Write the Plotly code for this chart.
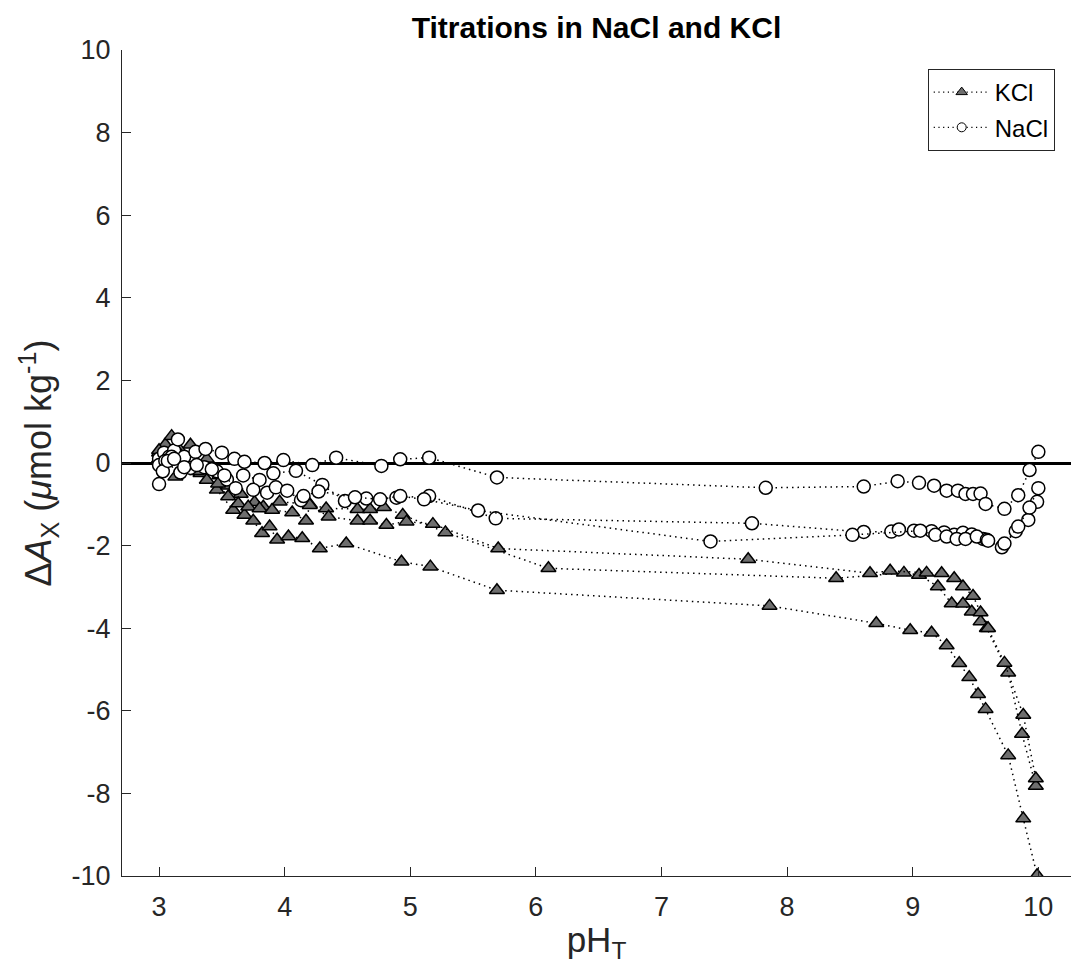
import plotly.graph_objects as go

# ---- data: KCl titrations (pH_T, dA_X) ----
kcl1_ph = [3.00, 3.06, 3.12, 3.20, 3.33, 3.46, 3.59, 3.68, 3.75, 3.82, 3.88, 3.94, 4.03, 4.14, 4.28, 4.49, 4.93, 5.16, 5.69, 7.86, 8.71, 8.98, 9.15, 9.27, 9.37, 9.45, 9.52, 9.58, 9.76, 9.88, 9.99]
kcl1_da = [0.10, 0.35, 0.20, -0.05, -0.25, -0.65, -1.14, -1.26, -1.40, -1.70, -1.54, -1.86, -1.78, -1.82, -2.07, -1.95, -2.39, -2.51, -3.08, -3.46, -3.88, -4.05, -4.11, -4.42, -4.85, -5.19, -5.60, -5.96, -7.08, -8.61, -9.98]

kcl2_ph = [3.00, 3.05, 3.10, 3.17, 3.25, 3.38, 3.48, 3.55, 3.65, 3.76, 3.83, 3.96, 4.20, 4.33, 4.58, 4.68, 4.79, 4.94, 5.28, 6.10, 8.39, 8.93, 9.05, 9.20, 9.31, 9.40, 9.47, 9.54, 9.59, 9.76, 9.87, 9.98]
kcl2_da = [0.25, 0.45, 0.65, 0.30, 0.44, 0.10, -0.30, -0.55, -0.75, -0.95, -1.06, -0.94, -1.00, -1.10, -1.12, -1.12, -1.07, -1.26, -1.68, -2.55, -2.79, -2.66, -2.71, -2.99, -3.40, -3.41, -3.60, -3.84, -4.00, -5.08, -6.56, -7.82]

kcl3_ph = [3.00, 3.08, 3.13, 3.22, 3.30, 3.38, 3.47, 3.55, 3.63, 3.71, 3.80, 3.90, 4.06, 4.17, 4.20, 4.35, 4.58, 4.68, 4.81, 4.97, 5.18, 5.70, 7.69, 8.66, 8.82, 9.11, 9.23, 9.33, 9.40, 9.48, 9.54, 9.60, 9.73, 9.88, 9.98]
kcl3_da = [0.31, 0.15, -0.33, -0.10, -0.20, -0.41, -0.50, -0.81, -0.98, -1.06, -1.10, -1.14, -1.20, -1.40, -1.02, -1.30, -1.40, -1.40, -1.50, -1.42, -1.48, -2.07, -2.33, -2.67, -2.61, -2.66, -2.67, -2.79, -2.99, -3.22, -3.62, -4.00, -4.84, -6.10, -7.64]

# ---- data: NaCl titrations ----
nacl1_ph = [3.00, 3.04, 3.08, 3.12, 3.15, 3.20, 3.29, 3.37, 3.50, 3.60, 3.68, 3.84, 3.99, 4.22, 4.41, 4.77, 4.92, 5.15, 5.69, 7.83, 8.61, 8.88, 9.05, 9.17, 9.27, 9.36, 9.42, 9.48, 9.54, 9.58, 9.73, 9.84, 9.93, 10.00]
nacl1_da = [0.10, 0.25, 0.15, 0.30, 0.57, 0.15, 0.27, 0.34, 0.25, 0.10, 0.03, 0.00, 0.07, -0.05, 0.13, -0.07, 0.09, 0.13, -0.35, -0.60, -0.57, -0.44, -0.48, -0.55, -0.67, -0.67, -0.75, -0.75, -0.74, -0.99, -1.11, -0.78, -0.17, 0.27]

nacl2_ph = [3.00, 3.05, 3.10, 3.17, 3.25, 3.36, 3.46, 3.54, 3.67, 3.80, 3.91, 4.09, 4.30, 4.48, 4.65, 4.89, 5.15, 5.68, 7.72, 8.61, 8.83, 8.89, 9.01, 9.15, 9.25, 9.33, 9.40, 9.47, 9.56, 9.71, 9.82, 9.92, 9.99]
nacl2_da = [-0.05, 0.05, 0.15, -0.23, -0.12, -0.10, -0.20, -0.40, -0.30, -0.41, -0.25, -0.19, -0.53, -0.92, -0.86, -0.84, -0.80, -1.34, -1.46, -1.67, -1.66, -1.61, -1.64, -1.65, -1.68, -1.74, -1.69, -1.73, -1.84, -2.04, -1.65, -1.38, -0.94]

nacl3_ph = [3.00, 3.03, 3.07, 3.12, 3.20, 3.30, 3.42, 3.52, 3.61, 3.75, 3.86, 3.93, 4.02, 4.13, 4.15, 4.27, 4.56, 4.76, 4.92, 5.11, 5.54, 7.39, 8.52, 9.06, 9.18, 9.27, 9.35, 9.42, 9.51, 9.59, 9.60, 9.73, 9.84, 9.93, 10.00]
nacl3_da = [-0.51, -0.20, 0.05, 0.10, -0.10, -0.05, -0.15, -0.30, -0.61, -0.65, -0.72, -0.59, -0.67, -0.90, -0.80, -0.69, -0.83, -0.88, -0.80, -0.88, -1.15, -1.90, -1.74, -1.64, -1.74, -1.78, -1.84, -1.84, -1.78, -1.86, -1.88, -1.95, -1.54, -1.08, -0.61]

x_ticks = [3, 4, 5, 6, 7, 8, 9, 10]
x_ticktext = ["3", "4", "5", "6", "7", "8", "9", "10"]
y_ticks = [-10, -8, -6, -4, -2, 0, 2, 4, 6, 8, 10]
y_ticktext = ["-10", "-8", "-6", "-4", "-2", "0", "2", "4", "6", "8", "10"]

FONT = "Liberation Sans, Arial, Helvetica, sans-serif"
AXC = "#262626"
DOT = "1.5px,4px"

fig = go.Figure()

kcl_sets = [(kcl1_ph, kcl1_da), (kcl2_ph, kcl2_da), (kcl3_ph, kcl3_da)]
nacl_sets = [(nacl1_ph, nacl1_da), (nacl2_ph, nacl2_da), (nacl3_ph, nacl3_da)]

tri_marker = dict(symbol="triangle-up", size=13, color="#6e6e6e", line=dict(color="black", width=1.5))
circ_marker = dict(symbol="circle", size=13, color="white", line=dict(color="black", width=1.5))

for xs, ys in kcl_sets:
    fig.add_trace(go.Scatter(x=xs, y=ys, mode="lines+markers", name="KCl",
                             legendgroup="KCl", showlegend=False,
                             line=dict(color="black", width=1.5, dash=DOT), marker=tri_marker))
for xs, ys in nacl_sets:
    fig.add_trace(go.Scatter(x=xs, y=ys, mode="lines+markers", name="NaCl",
                             legendgroup="NaCl", showlegend=False,
                             line=dict(color="black", width=1.5, dash=DOT), marker=circ_marker))

# legend entries (small markers as in the original legend)
fig.add_trace(go.Scatter(x=[None], y=[None], mode="lines+markers", name="KCl", legendgroup="KCl",
                         line=dict(color="black", width=1.2, dash="1.2px,3.5px"),
                         marker=dict(symbol="triangle-up", size=10, color="#6e6e6e",
                                     line=dict(color="black", width=1))))
fig.add_trace(go.Scatter(x=[None], y=[None], mode="lines+markers", name="NaCl", legendgroup="NaCl",
                         line=dict(color="black", width=1.2, dash="1.2px,3.5px"),
                         marker=dict(symbol="circle", size=9, color="white",
                                     line=dict(color="black", width=1))))

fig.update_layout(
    width=1073, height=970,
    margin=dict(l=122, r=2, t=50, b=94),
    paper_bgcolor="white", plot_bgcolor="white",
    font=dict(family=FONT, color=AXC),
    title=dict(text="<b>Titrations in NaCl and KCl</b>",
               font=dict(family=FONT, size=30, color="black"),
               x=0.5, xref="paper", xanchor="center", y=0.972, yanchor="middle"),
    showlegend=True,
    legend=dict(x=0.849, y=0.977, xanchor="left", yanchor="top",
                bgcolor="white", bordercolor=AXC, borderwidth=1,
                font=dict(family=FONT, size=24, color="black"),
                tracegroupgap=1, itemwidth=56),
    xaxis=dict(range=[2.705, 10.26], tickvals=x_ticks, ticktext=x_ticktext,
               ticks="inside", ticklen=9, tickwidth=1, tickcolor=AXC,
               showline=True, linecolor=AXC, linewidth=1.2,
               showgrid=False, zeroline=False, mirror=False,
               ticklabelstandoff=6,
               tickfont=dict(family=FONT, size=27, color=AXC),
               title=dict(text="pH<sub>T</sub>", font=dict(family=FONT, size=35, color=AXC),
                          standoff=6)),
    yaxis=dict(range=[-10, 10], tickvals=y_ticks, ticktext=y_ticktext,
               ticks="inside", ticklen=9, tickwidth=1, tickcolor=AXC,
               showline=True, linecolor=AXC, linewidth=1.2,
               showgrid=False, zeroline=True, zerolinecolor="black", zerolinewidth=2.5,
               ticklabelstandoff=5,
               tickfont=dict(family=FONT, size=27, color=AXC),
               title=dict(text="Δ<i>A</i><sub>X</sub> (<i>μ</i>mol kg<sup>-1</sup>)",
                          font=dict(family=FONT, size=36, color=AXC), standoff=8)),
)

fig.write_html("out.html")
